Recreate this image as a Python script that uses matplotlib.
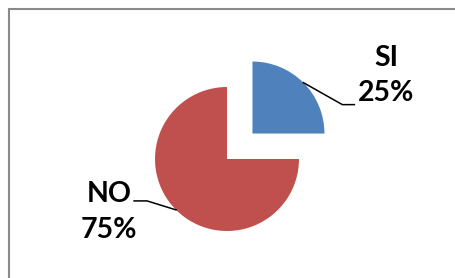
import numpy as np
import matplotlib
matplotlib.use('Agg')
import matplotlib.pyplot as plt
from matplotlib.patches import Rectangle

labels = ['SI', 'NO']
values = [25, 75]
colors = ['#4F81BD', '#C0504D']
explode = [0.5, 0]  # fraction of radius

W, H = 455, 278
fig = plt.figure(figsize=(W / 100, H / 100), dpi=100)
ax = fig.add_axes([0, 0, 1, 1])

cx, cy, r = 227, 119, 72
# matplotlib's explode is in data units when center/radius are given
wedges, _ = ax.pie(values, colors=colors, explode=[e * r for e in explode],
                   startangle=90, counterclock=False, center=(cx, cy),
                   radius=r, wedgeprops=dict(linewidth=0), frame=True)
ax.set_xlim(0, W)
ax.set_ylim(0, H)
ax.set_aspect('equal')
ax.axis('off')

# chart frame (right and bottom edges fall outside the image)
ax.add_patch(Rectangle((9, -20), 480, H - 9 + 20, fill=False,
                       edgecolor='#8a8a8a', lw=1.5))

# leader line offsets (elbow, end) per slice, in pixels
elbows = [(39, -22), (-29, 9)]
ends = [12, -13]
text_off = [(32, 30), (-25, -10)]

for i, w in enumerate(wedges):
    ang = np.deg2rad((w.theta1 + w.theta2) / 2)
    wx, wy = w.center
    ax0 = wx + w.r * np.cos(ang)
    ay0 = wy + w.r * np.sin(ang)
    ex, ey = ax0 + elbows[i][0], ay0 + elbows[i][1]
    fx = ex + ends[i]
    ax.plot([ax0, ex, fx], [ay0, ey, ey], color='black', lw=1.1,
            solid_joinstyle='miter')
    ax.text(fx + text_off[i][0], ey + text_off[i][1] - 1,
            f'{labels[i]}\n{values[i]}%', ha='center', va='center',
            fontsize=20.5, fontweight='bold', family='Lato',
            linespacing=1.45, color='black')

fig.savefig('out.png', dpi=100)
